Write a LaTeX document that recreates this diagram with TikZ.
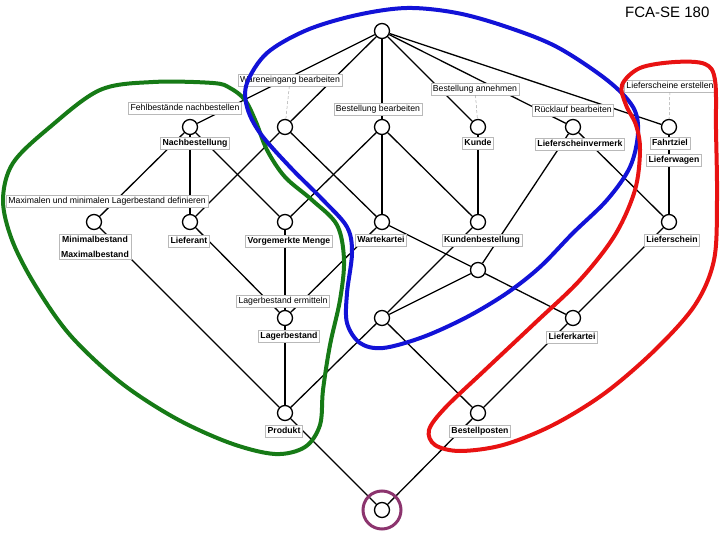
\documentclass[tikz,border=0pt]{standalone}
\usepackage{fontspec}
\setmainfont{Liberation Sans}
\definecolor{hgreen}{RGB}{22,122,22}
\definecolor{hblue}{RGB}{18,18,215}
\definecolor{hred}{RGB}{232,18,18}
\definecolor{hpurple}{RGB}{140,52,110}
\begin{document}
\begin{tikzpicture}[x=1pt,y=-1pt,
 cn/.style={circle,draw=black,line width=1.3pt,fill=white,minimum size=15pt,inner sep=0pt},
 edge/.style={draw=black,line width=1.3pt},
 lab/.style={draw=gray!55,line width=0.5pt,fill=white,inner xsep=2pt,inner ysep=1.6pt,text height=6.6pt,text depth=1.9pt,font=\fontsize{8.7}{10}\selectfont},
 olab/.style={lab,font=\fontsize{8.7}{10}\selectfont\bfseries},
 lead/.style={draw=gray!70,line width=0.5pt,dash pattern=on 3pt off 2pt},
 hull/.style={line width=4pt,line join=round}]
\useasboundingbox (0,0) rectangle (720,540);
% concept nodes
\node[cn] (T) at (382,31) {};
\node[cn] (N) at (190,127) {};
\node[cn] (A) at (285,127) {};
\node[cn] (B) at (382,127) {};
\node[cn] (C) at (478,127) {};
\node[cn] (D) at (573,127) {};
\node[cn] (E) at (669,127) {};
\node[cn] (M) at (94,222) {};
\node[cn] (L) at (190,222) {};
\node[cn] (V) at (285,222) {};
\node[cn] (W) at (382,222) {};
\node[cn] (K) at (478,222) {};
\node[cn] (LS) at (669,222) {};
\node[cn] (X1) at (478,270) {};
\node[cn] (LB) at (285,318) {};
\node[cn] (X2) at (382,318) {};
\node[cn] (LK) at (573,318) {};
\node[cn] (P) at (285,413) {};
\node[cn] (BP) at (478,413) {};
\node[cn] (Z) at (382,510) {};
% edges
\foreach \a/\b in {T/N,T/A,T/B,T/C,T/D,T/E,N/M,N/L,N/V,A/L,A/W,B/V,B/W,B/K,C/K,D/X1,D/LS,E/LS,M/P,L/LB,V/LB,W/LB,W/X1,K/X2,X1/X2,X1/LK,LS/LK,LB/P,X2/P,X2/BP,LK/BP,P/Z,BP/Z}
  \draw[edge] (\a) -- (\b);
% labels
\node[lab] (lA) at (290,80) {Wareneingang bearbeiten};
\node[lab] (lN) at (185,108) {Fehlbestände nachbestellen};
\node[lab] (lB) at (378,109) {Bestellung bearbeiten};
\node[lab] (lC) at (475,89) {Bestellung annehmen};
\node[lab] (lD) at (573,110) {Rücklauf bearbeiten};
\node[lab] (lE) at (670,86) {Lieferscheine erstellen};
\node[lab,anchor=east] (lM) at (208,201) {Maximalen und minimalen Lagerbestand definieren};
\node[lab] (lLB) at (283,301) {Lagerbestand ermitteln};
\draw[lead] (lA) -- (A);
\draw[lead] (lC) -- (C);
\draw[lead] (lE) -- (E);
% object labels
\node[olab] (oN) at (195,143) {Nachbestellung};
\node[olab] (oC) at (478,143) {Kunde};
\node[olab] (oD) at (580,144) {Lieferscheinvermerk};
\node[olab] (oE1) at (670,143) {Fahrtziel};
\node[olab] (oE2) at (674,160) {Lieferwagen};
\node[draw=gray!55,line width=0.5pt,fill=white,inner xsep=2pt,inner ysep=2pt,align=center,font=\fontsize{8.7}{15}\selectfont\bfseries] (oM) at (95,247) {Minimalbestand\\Maximalbestand};
\node[olab] (oL) at (189,241) {Lieferant};
\node[olab] (oV) at (289,241) {Vorgemerkte Menge};
\node[olab] (oW) at (381,240) {Wartekartei};
\node[olab] (oK) at (482,240) {Kundenbestellung};
\node[olab] (oLS) at (672,240) {Lieferschein};
\node[olab] (oLB) at (289,336) {Lagerbestand};
\node[olab] (oLK) at (572,337) {Lieferkartei};
\node[olab] (oP) at (284,431) {Produkt};
\node[olab] (oBP) at (480,431) {Bestellposten};
% hulls
\draw[hull,hgreen] plot[smooth cycle,tension=0.55] coordinates {(213,83) (153,82) (100,90) (50,127) (13,163) (3,200) (12,240) (35,285) (70,335) (120,382) (175,418) (230,443) (275,454) (305,447) (320,425) (323,390) (330,345) (340,300) (344,260) (337,225) (312,200) (285,177) (267,150) (256,122) (245,100) (230,88)};
\draw[hull,hblue] plot[smooth cycle,tension=0.55] coordinates {(247,83) (267,53) (307,30) (357,15) (407,8) (457,13) (507,27) (557,47) (607,80) (633,107) (638,133) (630,167) (607,200) (573,233) (540,267) (507,293) (467,317) (423,337) (383,348) (360,343) (347,323) (347,293) (352,253) (347,227) (323,200) (290,167) (260,133) (247,107)};
\draw[hull,hred] plot[smooth cycle,tension=0.55] coordinates {(622,85) (640,68) (675,62) (705,64) (715,80) (716,130) (717,200) (714,260) (695,305) (655,350) (605,393) (553,425) (503,445) (460,451) (435,445) (429,430) (445,408) (485,370) (535,323) (580,280) (615,235) (635,190) (640,150) (636,125) (626,105)};
\draw[hpurple,line width=3pt] (Z.center) circle[radius=19pt];
% title
\node[anchor=base west,font=\fontsize{15}{18}\selectfont,inner sep=0pt] (title) at (625,17.5) {FCA-SE 180};
\end{tikzpicture}
\end{document}
